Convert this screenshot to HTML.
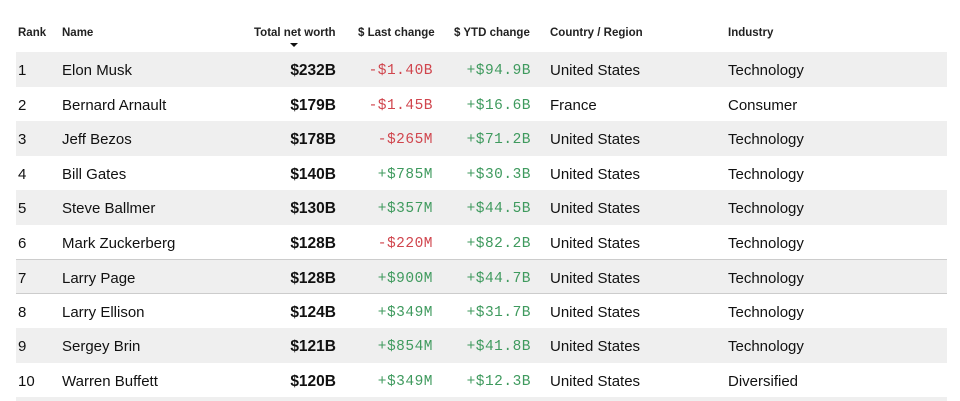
<!DOCTYPE html>
<html style="height:401px;overflow:hidden"><head><style>
body{margin:0;width:960px;height:401px;background:#fff;font-family:"Liberation Sans",sans-serif;color:#111;overflow:hidden;position:relative}
.h{position:absolute;top:27px;font-size:11.5px;font-weight:bold;color:#222}
.row{position:absolute;left:16px;width:931px;height:34.5px}
.row.s{background:#efefef}
.c{position:absolute;top:2px;line-height:34.5px;font-size:15px;white-space:nowrap}
.m{font-family:"Liberation Mono",monospace;font-size:14.5px;letter-spacing:0.5px}
.r{color:#d0454d}.g{color:#3f9a5e}
.nw{font-weight:bold;font-size:15.5px}
</style></head><body>
<div class="h" style="left:18px">Rank</div>
<div class="h" style="left:62px">Name</div>
<div class="h" style="left:254px">Total net worth</div>
<div style="position:absolute;left:290px;top:43px;width:0;height:0;border-left:4px solid transparent;border-right:4px solid transparent;border-top:4px solid #111"></div>
<div class="h" style="left:358px">$ Last change</div>
<div class="h" style="left:454px">$ YTD change</div>
<div class="h" style="left:550px">Country / Region</div>
<div class="h" style="left:728px">Industry</div>
<div id="t"></div>
<script>
const d=[["1","Elon Musk","$232B","-$1.40B","+$94.9B","United States","Technology"],
["2","Bernard Arnault","$179B","-$1.45B","+$16.6B","France","Consumer"],
["3","Jeff Bezos","$178B","-$265M","+$71.2B","United States","Technology"],
["4","Bill Gates","$140B","+$785M","+$30.3B","United States","Technology"],
["5","Steve Ballmer","$130B","+$357M","+$44.5B","United States","Technology"],
["6","Mark Zuckerberg","$128B","-$220M","+$82.2B","United States","Technology"],
["7","Larry Page","$128B","+$900M","+$44.7B","United States","Technology"],
["8","Larry Ellison","$124B","+$349M","+$31.7B","United States","Technology"],
["9","Sergey Brin","$121B","+$854M","+$41.8B","United States","Technology"],
["10","Warren Buffett","$120B","+$349M","+$12.3B","United States","Diversified"]];
let h="";
d.forEach((r,i)=>{const top=52+i*34.5;
let st=i%2==0?"s":"";let b=i==6?"border-top:1.5px solid #ccc;border-bottom:1.5px solid #ccc;box-sizing:border-box;":"";
h+=`<div class="row ${st}" style="top:${top}px;${b}">
<div class="c" style="left:2px">${r[0]}</div>
<div class="c" style="left:46px">${r[1]}</div>
<div class="c nw" style="right:611px">${r[2]}</div>
<div class="c m ${r[3][0]=='-'?'r':'g'}" style="right:514px">${r[3]}</div>
<div class="c m g" style="right:416px">${r[4]}</div>
<div class="c" style="left:534px">${r[5]}</div>
<div class="c" style="left:712px">${r[6]}</div></div>`});
h+=`<div class="row s" style="top:397px;height:4px"></div>`;
document.getElementById("t").innerHTML=h;
</script>
</body></html>
